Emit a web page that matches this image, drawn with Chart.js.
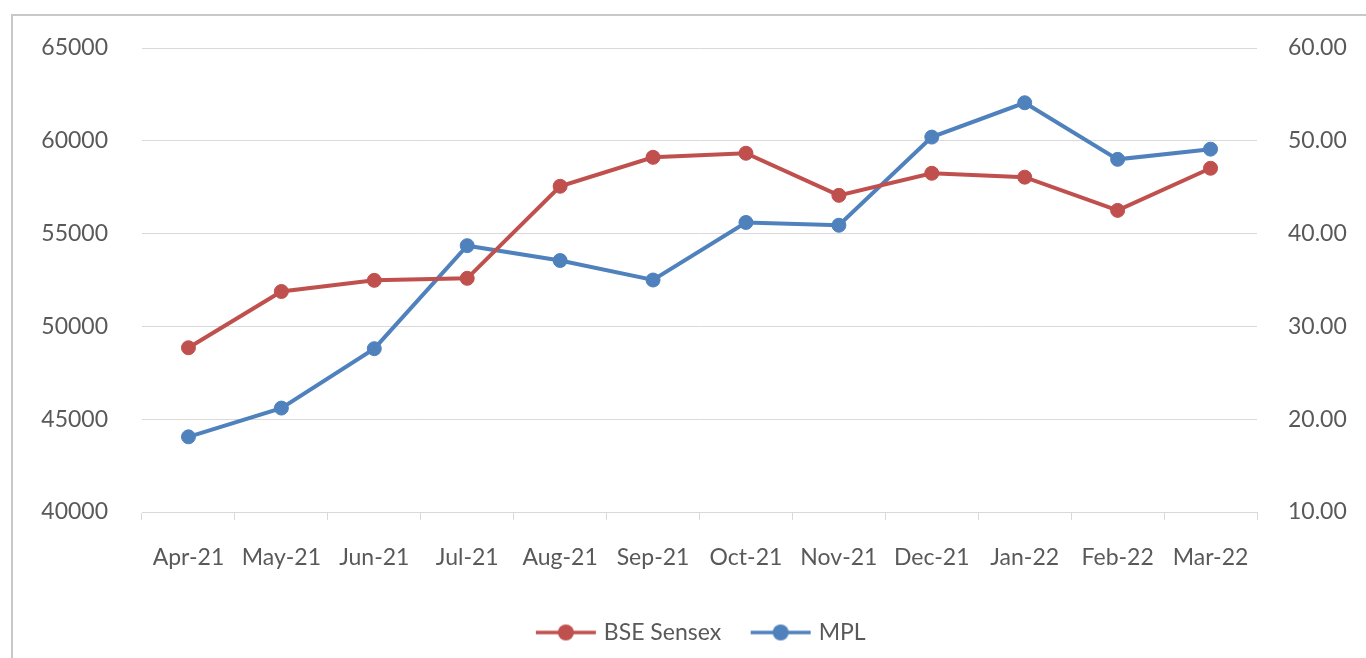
<!DOCTYPE html>
<html>
<head>
<meta charset="utf-8">
<script src="https://cdn.jsdelivr.net/npm/chart.js@4/dist/chart.umd.min.js"></script>
<style>
  html, body { margin: 0; padding: 0; background: #fff; overflow: hidden; }
  #frame { position: absolute; left: 11px; top: 14px; width: 1400px; height: 700px; border: 2px solid #c8c8c8; box-sizing: border-box; }
  #wrap { position: absolute; left: 0; top: 0; width: 1366px; height: 658px; }
</style>
</head>
<body>
<div id="frame"></div>
<div id="wrap"><canvas id="chart"></canvas></div>
<script>
// categories and series
const months = ['Apr-21', 'May-21', 'Jun-21', 'Jul-21', 'Aug-21', 'Sep-21', 'Oct-21', 'Nov-21', 'Dec-21', 'Jan-22', 'Feb-22', 'Mar-22'];
const sensex = [48850, 51880, 52480, 52590, 57550, 59110, 59330, 57060, 58250, 58040, 56250, 58520];
const mpl = [18.1, 21.2, 27.6, 38.7, 37.1, 35.0, 41.2, 40.9, 50.4, 54.1, 48.0, 49.1];

const RED = '#C0504D';
const BLUE = '#4F81BD';
const TXT = '#595959';
const GRID = '#d9d9d9';
const FONT = { family: 'Lato', size: 23 };

// legend swatch: short line with a dot, blank strip on the left for spacing
function swatch(color) {
  const c = document.createElement('canvas');
  c.width = 83; c.height = 18;
  const g = c.getContext('2d');
  g.strokeStyle = color; g.lineWidth = 3.5;
  g.beginPath(); g.moveTo(22, 9); g.lineTo(82, 9); g.stroke();
  g.fillStyle = color;
  g.beginPath(); g.arc(52, 9, 8, 0, Math.PI * 2); g.fill();
  return c;
}

const ds = (label, data, color, axis) => ({
  label, data, yAxisID: axis,
  borderColor: color, backgroundColor: color,
  pointBackgroundColor: color, pointBorderColor: color,
  borderWidth: 4, pointRadius: 7, pointBorderWidth: 1,
  tension: 0, pointStyle: 'circle'
});

new Chart(document.getElementById('chart'), {
  type: 'line',
  data: {
    labels: months,
    datasets: [ds('BSE Sensex', sensex, RED, 'y'), ds('MPL', mpl, BLUE, 'y1')]
  },
  options: {
    responsive: true, maintainAspectRatio: false, animation: false,
    layout: { padding: { top: 48, left: 18, right: 0, bottom: 4 } },
    plugins: {
      tooltip: { enabled: false },
      legend: {
        position: 'bottom',
        labels: {
          usePointStyle: true, pointStyleWidth: 74, color: TXT, font: FONT, padding: 12,
          generateLabels: (chart) => Chart.defaults.plugins.legend.labels.generateLabels(chart)
            .map((it, i) => ({ ...it, pointStyle: swatch(chart.data.datasets[i].borderColor) }))
        }
      }
    },
    scales: {
      x: {
        offset: true,
        grid: { offset: true, drawOnChartArea: false, drawTicks: true, tickLength: 8, color: GRID },
        border: { color: GRID },
        ticks: { color: TXT, font: FONT, padding: 24, maxRotation: 0, autoSkip: false },
        afterFit: (s) => { s.height = 97; }
      },
      y: {
        position: 'left', min: 40000, max: 65000,
        grid: { color: GRID, drawTicks: false },
        border: { display: false },
        ticks: { stepSize: 5000, color: TXT, font: FONT, padding: 34, callback: (v) => String(v) },
        afterFit: (s) => { s.width = 124; }
      },
      y1: {
        position: 'right', min: 10, max: 60,
        grid: { drawOnChartArea: false, drawTicks: false },
        border: { display: false },
        ticks: { stepSize: 10, color: TXT, font: FONT, padding: 31, callback: (v) => v.toFixed(2) },
        afterFit: (s) => { s.width = 109; }
      }
    }
  }
});
</script>
</body>
</html>
